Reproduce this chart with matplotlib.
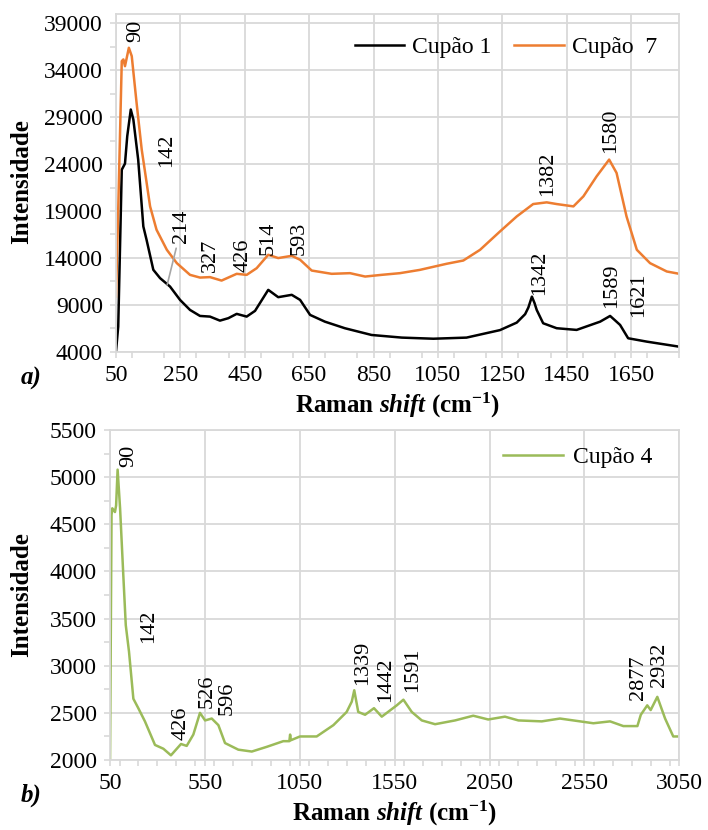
import matplotlib
matplotlib.use('Agg')
import matplotlib.pyplot as plt
from matplotlib.ticker import MultipleLocator

# Fonts: Times-like serif for everything
plt.rcParams['font.family'] = 'Liberation Serif'
plt.rcParams['mathtext.fontset'] = 'custom'
plt.rcParams['mathtext.rm'] = 'Liberation Serif'
plt.rcParams['mathtext.it'] = 'Liberation Serif:italic'
plt.rcParams['mathtext.bf'] = 'Liberation Serif:bold'
plt.rcParams['mathtext.bfit'] = 'Liberation Serif:bold:italic'

# ---- data (Raman shift, intensity) ----
cup1_x = [50, 57, 68, 78, 85, 96, 104, 119, 135, 145, 166, 187, 218, 249, 280, 311,
          342, 373, 399, 425, 456, 482, 523, 554, 596, 622, 653, 699, 761, 844, 938,
          1036, 1139, 1243, 1295, 1321, 1331, 1342, 1350, 1357, 1377, 1419, 1481, 1554,
          1585, 1600, 1616, 1641, 1699, 1800]
cup1_y = [4000, 6670, 23400, 24050, 26970, 29820, 28750, 24480, 17350, 15930, 12730,
          11840, 10940, 9520, 8450, 7810, 7740, 7310, 7570, 8030, 7740, 8350, 10590,
          9810, 10060, 9520, 7920, 7200, 6500, 5780, 5500, 5380, 5500, 6300, 7100,
          8000, 8700, 9870, 9200, 8450, 7030, 6500, 6320, 7200, 7810, 7350, 6850, 5430,
          5070, 4530]

cup7_x = [50, 57, 68, 73, 78, 90, 99, 114, 130, 140, 156, 176, 208, 239, 280, 311,
          342, 378, 425, 456, 487, 523, 554, 596, 622, 658, 720, 777, 824, 875, 932,
          994, 1077, 1129, 1181, 1243, 1295, 1346, 1388, 1419, 1471, 1502, 1543, 1582,
          1605, 1636, 1668, 1709, 1761, 1800]
cup7_y = [9870, 19140, 34980, 35160, 34440, 36400, 35510, 30530, 25540, 23230, 19490,
          17000, 14860, 13440, 12190, 11900, 11950, 11580, 12300, 12190, 12900, 14330,
          13980, 14220, 13800, 12650, 12300, 12370, 12010, 12190, 12370, 12720, 13370,
          13720, 14860, 16820, 18420, 19740, 19920, 19740, 19490, 20560, 22690, 24480,
          23060, 18420, 14860, 13440, 12550, 12300]

cup4_x = [50, 58, 62, 76, 82, 90, 103, 120, 133, 150, 173, 199, 234, 287, 331, 371,
          424, 454, 489, 524, 551, 586, 621, 656, 726, 797, 876, 963, 995, 999, 1003,
          1051, 1139, 1227, 1297, 1324, 1337, 1358, 1394, 1441, 1482, 1561, 1596, 1640,
          1693, 1763, 1868, 1964, 2043, 2131, 2202, 2325, 2421, 2527, 2597, 2685, 2755,
          2829, 2847, 2881, 2899, 2934, 2975, 3018, 3050]
cup4_y = [2000, 4600, 4670, 4630, 4700, 5080, 4670, 3960, 3430, 3150, 2650, 2550, 2410,
          2160, 2120, 2050, 2170, 2150, 2270, 2500, 2420, 2440, 2370, 2180, 2110, 2090,
          2140, 2200, 2200, 2270, 2210, 2250, 2250, 2370, 2510, 2620, 2740, 2510, 2480,
          2550, 2460, 2580, 2640, 2510, 2420, 2380, 2420, 2470, 2430, 2460, 2420, 2410,
          2440, 2410, 2390, 2410, 2360, 2360, 2480, 2580, 2530, 2670, 2440, 2250, 2250]

# peak labels (text, x, y of label start)
top_labels = ['90', '142', '327', '426', '514', '593', '1342', '1382', '1580', '1589', '1621']
top_lab_x = [110, 207, 342, 445, 523, 619, 1367, 1392, 1585, 1590, 1675]
top_lab_y = [36970, 23730, 12540, 12540, 14330, 14330, 10060, 20560, 25190, 8640, 7740]

bot_labels = ['90', '142', '426', '526', '596', '1339', '1442', '1591', '2877', '2932']
bot_lab_x = [150, 252, 423, 560, 665, 1380, 1501, 1644, 2834, 2944]
bot_lab_y = [5107, 3237, 2212, 2548, 2477, 2795, 2618, 2724, 2636, 2777]

GRID = '#D9D9D9'
FS = 16      # peak labels
TFS = 17     # tick labels and legend


def style_axes(ax):
    for s in ax.spines.values():
        s.set_color(GRID)
        s.set_linewidth(1.3)
    ax.grid(True, which='major', color=GRID, linewidth=1.3)
    ax.set_axisbelow(True)
    ax.tick_params(which='both', direction='out', color=GRID, width=1.2,
                   length=4.5, labelsize=TFS, pad=5)


fig = plt.figure(figsize=(7.08, 8.30), dpi=100)

# ---- a) ----
ax1 = fig.add_axes([0.1638, 0.5763, 0.7957, 0.4068])
ax1.plot(cup1_x, cup1_y, color='black', lw=1.8, label='Cupão 1')
ax1.plot(cup7_x, cup7_y, color='#ED7D31', lw=1.8, label='Cupão  7')
ax1.set_xlim(50, 1800)
ax1.set_ylim(4000, 40000)
ax1.set_xticks(range(50, 1700, 200))
ax1.xaxis.set_minor_locator(MultipleLocator(100))
ax1.set_yticks(range(4000, 40000, 5000))
ax1.set_yticks(range(6500, 40000, 5000), minor=True)
style_axes(ax1)
for t, x, y in zip(top_labels, top_lab_x, top_lab_y):
    ax1.text(x, y, t, rotation=90, ha='center', va='bottom', fontsize=FS)
ax1.annotate('214', xy=(209, 11120), xytext=(254, 15610), rotation=90,
             ha='center', va='bottom', fontsize=FS,
             arrowprops=dict(arrowstyle='-', color='#A6A6A6', lw=1.2,
                             shrinkA=2, shrinkB=0))
ax1.legend(loc='center left', bbox_to_anchor=(0.424, 0.902), ncol=2, frameon=False,
           fontsize=TFS, handlelength=2.1, handletextpad=0.34, columnspacing=0.95,
           borderpad=0, borderaxespad=0)

# ---- b) ----
ax2 = fig.add_axes([0.1554, 0.0843, 0.8041, 0.3976])
ax2.plot(cup4_x, cup4_y, color='#9BBB59', lw=1.8, label='Cupão 4')
ax2.set_xlim(50, 3050)
ax2.set_ylim(2000, 5500)
ax2.set_xticks(range(50, 3100, 500))
ax2.xaxis.set_minor_locator(MultipleLocator(100))
ax2.set_yticks(range(2000, 5600, 500))
ax2.yaxis.set_minor_locator(MultipleLocator(250))
style_axes(ax2)
for t, x, y in zip(bot_labels, bot_lab_x, bot_lab_y):
    ax2.text(x, y, t, rotation=90, ha='center', va='bottom', fontsize=FS)
ax2.legend(loc='center left', bbox_to_anchor=(0.690, 0.918), frameon=False,
           fontsize=TFS, handlelength=2.55, handletextpad=0.42,
           borderpad=0, borderaxespad=0)

# axis titles and panel letters
xlab = 'Raman $\\mathbfit{shift}$ (cm$^{\\mathbf{-1}}$)'
fig.text(0.5614, 0.5024, xlab, ha='center', va='baseline', fontsize=18, fontweight='bold')
fig.text(0.5572, 0.0115, xlab, ha='center', va='baseline', fontsize=18, fontweight='bold')
fig.text(0.031, 0.7807, 'Intensidade', rotation=90, ha='center', va='center',
         fontsize=18, fontweight='bold')
fig.text(0.031, 0.2831, 'Intensidade', rotation=90, ha='center', va='center',
         fontsize=18, fontweight='bold')
fig.text(0.044, 1 - 385 / 830, 'a)', ha='center', va='baseline', fontsize=18,
         fontweight='bold', fontstyle='italic')
fig.text(0.044, 1 - 802 / 830, 'b)', ha='center', va='baseline', fontsize=18,
         fontweight='bold', fontstyle='italic')

fig.savefig('out.png', dpi=100)
